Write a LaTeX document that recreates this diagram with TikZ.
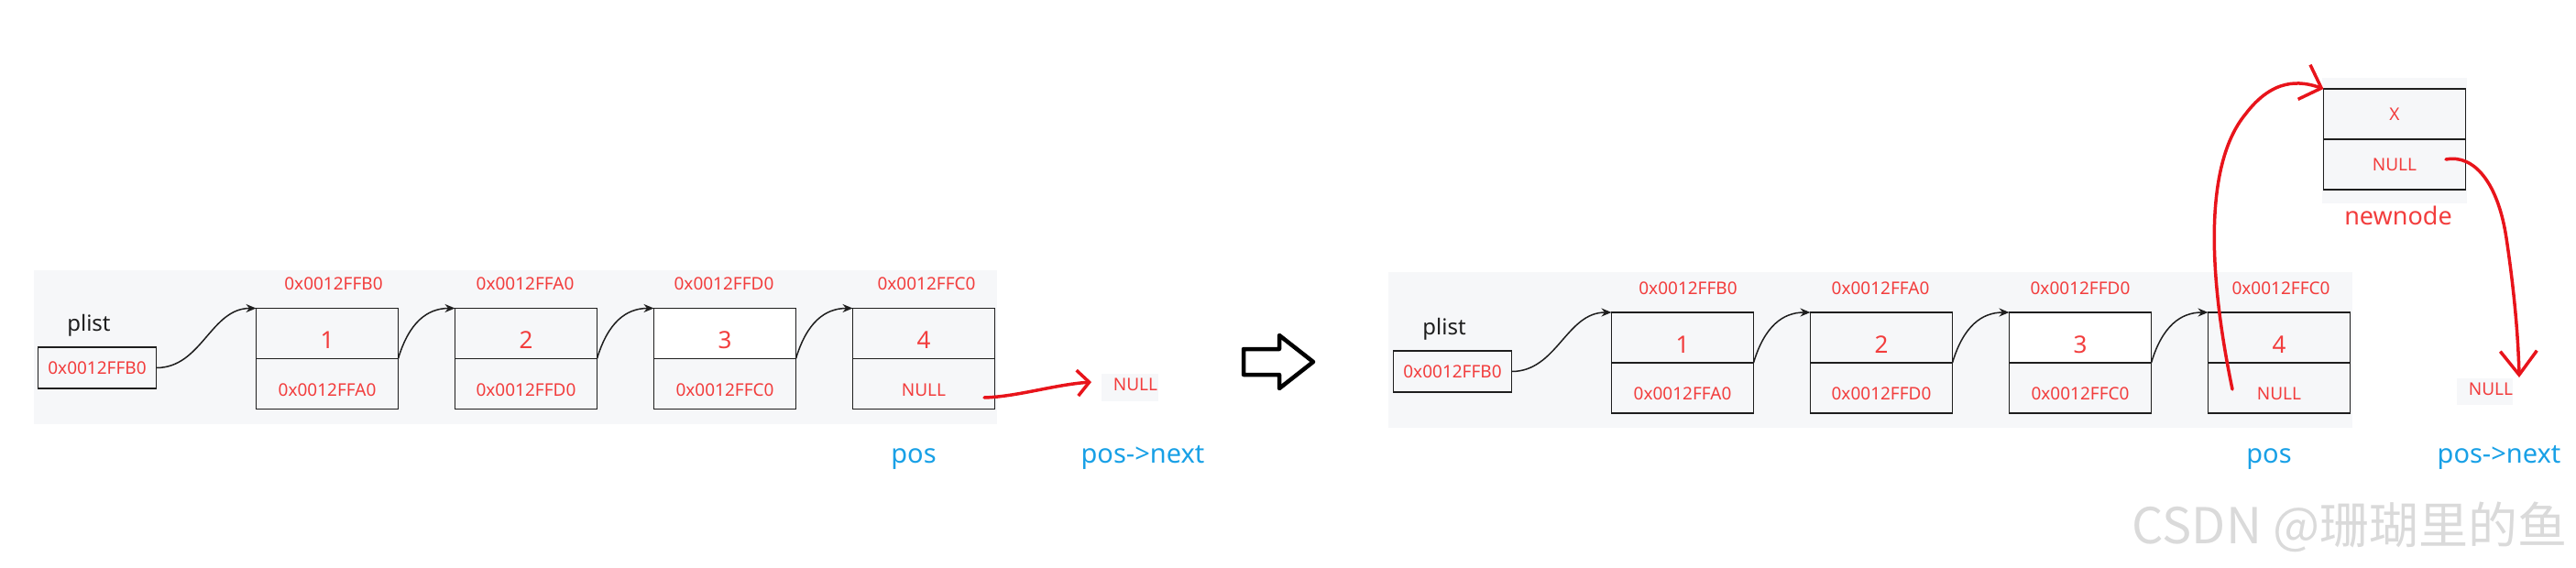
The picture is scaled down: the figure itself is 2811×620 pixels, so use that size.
\documentclass[tikz,border=0pt]{standalone}
\usepackage{fontspec}
\setmainfont{Noto Sans}
\newfontfamily\cjkfont{Noto Sans CJK SC}
\usetikzlibrary{arrows.meta}
\definecolor{figRed}{HTML}{F23D3D}
\definecolor{figInk}{HTML}{E8141B}
\definecolor{figBlue}{HTML}{18A0E6}
\definecolor{figLine}{HTML}{1E1E1E}
\definecolor{figBg}{HTML}{F6F7F9}
\definecolor{figMark}{HTML}{DADADA}

\begin{document}
\begin{tikzpicture}[x=1pt,y=-1pt,>={Stealth[length=11pt,width=9pt]},
  cell/.style={draw=figLine,line width=1.8pt,fill=figBg,minimum width=155pt,minimum height=55pt,inner sep=0pt,outer sep=0pt,text=figRed},
  datacell/.style={cell,font=\fontsize{26}{30}\selectfont,text height=34pt,text depth=1pt},
  nextcell/.style={cell,font=\fontsize{19}{23}\selectfont,text height=27pt,text depth=1pt},
  newcell/.style={cell,font=\fontsize{19}{23}\selectfont},
  headbox/.style={draw=figLine,line width=1.8pt,fill=figBg,minimum width=129pt,minimum height=45pt,inner sep=0pt,outer sep=0pt,text=figRed,font=\fontsize{19}{23}\selectfont},
  addr/.style={text=figRed,font=\fontsize{19}{23}\selectfont,inner sep=0pt},
  tag/.style={text=figLine,font=\fontsize{24}{28}\selectfont,inner sep=0pt},
  posname/.style={text=figBlue,font=\fontsize{29}{34}\selectfont,inner sep=0pt,anchor=base},
  link/.style={->,line width=1.5pt,figLine},
  pen/.style={line width=3.5pt,figInk,line cap=round,line join=round},
]
\useasboundingbox (0,0) rectangle (2811,620);
% light panels behind the lists
\fill[figBg] (37,295) rectangle (1088,463);
\fill[figBg] (1202,408) rectangle (1264,438);
\fill[figBg] (1515,297) rectangle (2567,467);
\fill[figBg] (2534,85) rectangle (2692,222);
\fill[figBg] (2681,413) rectangle (2742,442);

% before
\node[tag] (plistLt) at (97,355) {plist};
\node[headbox] (plistL) at (106,401.5) {0x0012FFB0};
\node[datacell] (L1d) at (357,364) {1};
\node[nextcell] (L1n) at (357,419) {0x0012FFA0};
\node[datacell] (L2d) at (574,364) {2};
\node[nextcell] (L2n) at (574,419) {0x0012FFD0};
\node[datacell,fill=white] (L3d) at (791,364) {3};
\node[nextcell] (L3n) at (791,419) {0x0012FFC0};
\node[datacell] (L4d) at (1008,364) {4};
\node[nextcell] (L4n) at (1008,419) {NULL};
\node[addr] (aL1) at (364,310) {0x0012FFB0};
\node[addr] (aL2) at (573,310) {0x0012FFA0};
\node[addr] (aL3) at (790,310) {0x0012FFD0};
\node[addr] (aL4) at (1011,310) {0x0012FFC0};
\node[addr] (nullL) at (1239,420) {NULL};
\node[posname] (posL) at (997,505) {pos};
\node[posname] (nextL) at (1247,505) {pos->next};
\draw[link] (plistL.east) to[out=0,in=180] (L1d.north west);
\draw[link] (L1d.south east) .. controls +(12,-40) and +(-30,0) .. (L2d.north west);
\draw[link] (L2d.south east) .. controls +(12,-40) and +(-30,0) .. (L3d.north west);
\draw[link] (L3d.south east) .. controls +(12,-40) and +(-30,0) .. (L4d.north west);
\coordinate (penL) at (1074,434);
\coordinate (tipL) at (1191,417);
\draw[pen,-{Straight Barb[length=13pt,width=28pt]}] (penL) .. controls (1110,433) and (1150,420) .. (tipL);

% the change
\draw[line width=4.5pt,line join=round,fill=white] (1357,381) -- (1396,381) -- (1396,366) -- (1433,395) -- (1396,424) -- (1396,409) -- (1357,409) -- cycle;

% after
\node[tag] (plistRt) at (1576,359) {plist};
\node[headbox] (plistR) at (1585,405.5) {0x0012FFB0};
\node[datacell] (R1d) at (1836,368.5) {1};
\node[nextcell] (R1n) at (1836,423.5) {0x0012FFA0};
\node[datacell] (R2d) at (2053,368.5) {2};
\node[nextcell] (R2n) at (2053,423.5) {0x0012FFD0};
\node[datacell,fill=white] (R3d) at (2270,368.5) {3};
\node[nextcell] (R3n) at (2270,423.5) {0x0012FFC0};
\node[datacell] (R4d) at (2487,368.5) {4};
\node[nextcell] (R4n) at (2487,423.5) {NULL};
\node[addr] (aR1) at (1842,315) {0x0012FFB0};
\node[addr] (aR2) at (2052,315) {0x0012FFA0};
\node[addr] (aR3) at (2270,315) {0x0012FFD0};
\node[addr] (aR4) at (2489,315) {0x0012FFC0};
\node[newcell] (N1d) at (2613,124.5) {X};
\node[newcell] (N1n) at (2613,179.5) {NULL};
\node[tag,text=figRed,font=\fontsize{27}{32}\selectfont] (newL) at (2617,235) {newnode};
\node[addr] (nullR) at (2718,425) {NULL};
\node[posname] (posR) at (2476,505) {pos};
\node[posname] (nextR) at (2727,505) {pos->next};
\draw[link] (plistR.east) to[out=0,in=180] (R1d.north west);
\draw[link] (R1d.south east) .. controls +(12,-40) and +(-30,0) .. (R2d.north west);
\draw[link] (R2d.south east) .. controls +(12,-40) and +(-30,0) .. (R3d.north west);
\draw[link] (R3d.south east) .. controls +(12,-40) and +(-30,0) .. (R4d.north west);
\coordinate (penR) at (2436,425);
\draw[pen,-{Straight Barb[length=20pt,width=40pt]}] (penR) .. controls (2410,300) and (2405,180) .. (2450,125) .. controls (2480,85) and (2510,88) .. (N1d.north west);
\coordinate (penN) at (2669,174);
\coordinate (tipN) at (2749,412);
\draw[pen,-{Straight Barb[length=26pt,width=40pt]}] (penN) .. controls (2700,168) and (2726,200) .. (2735,260) .. controls (2744,320) and (2748,370) .. (tipN);

\node[text=figMark,font=\cjkfont\fontsize{54}{60}\selectfont,inner sep=0pt] (mark) at (2564,575) {CSDN @珊瑚里的鱼};
\end{tikzpicture}
\end{document}
